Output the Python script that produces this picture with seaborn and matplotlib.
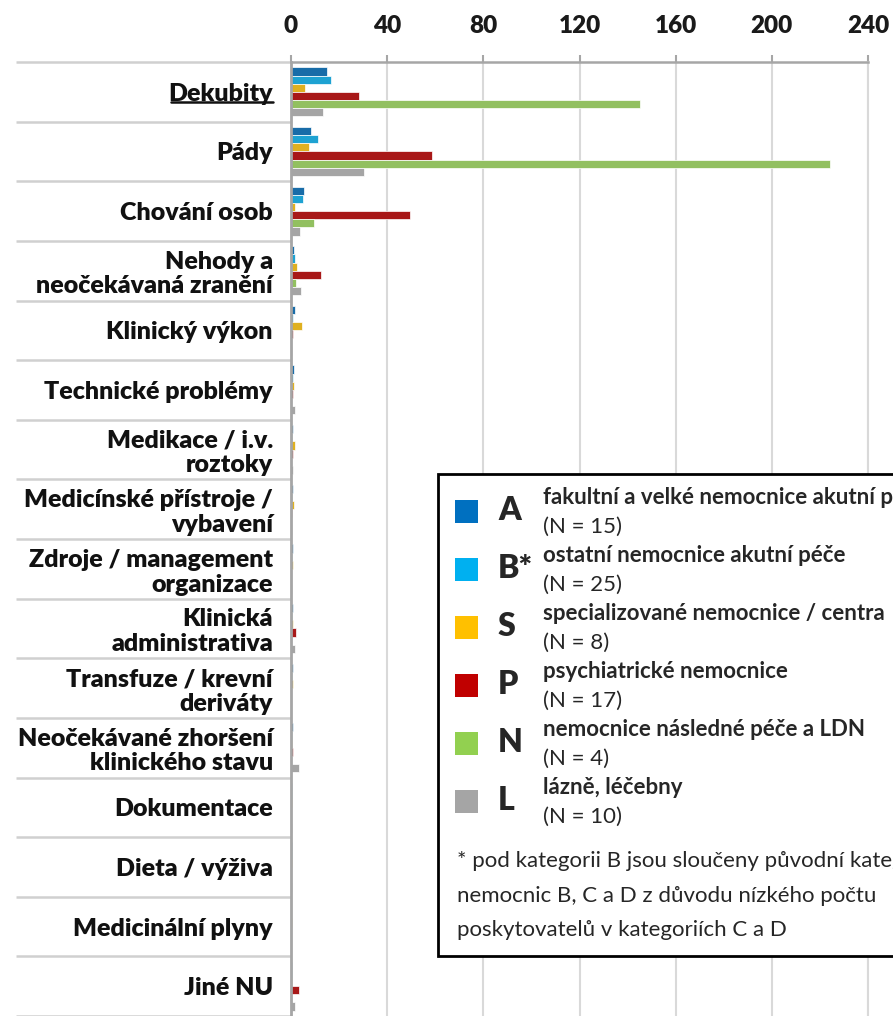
import numpy as np
import pandas as pd
import seaborn as sns
import matplotlib.pyplot as plt
from matplotlib.patches import Rectangle
from matplotlib.lines import Line2D
from matplotlib.transforms import IdentityTransform

# categories of adverse events (top to bottom)
categories = [
    'Dekubity', 'Pády', 'Chování osob', 'Nehody a\nneočekávaná zranění',
    'Klinický výkon', 'Technické problémy', 'Medikace / i.v.\nroztoky',
    'Medicínské přístroje /\nvybavení', 'Zdroje / management\norganizace',
    'Klinická\nadministrativa', 'Transfuze / krevní\nderiváty',
    'Neočekávané zhoršení\nklinického stavu', 'Dokumentace', 'Dieta / výživa',
    'Medicinální plyny', 'Jiné NU',
]

groups = ['A', 'B*', 'S', 'P', 'N', 'L']
group_desc = [
    'fakultní a velké nemocnice akutní péče',
    'ostatní nemocnice akutní péče',
    'specializované nemocnice / centra',
    'psychiatrické nemocnice',
    'nemocnice následné péče a LDN',
    'lázně, léčebny',
]
group_n = [15, 25, 8, 17, 4, 10]
colors = ['#0070C0', '#00B0F0', '#FFC000', '#C00000', '#92D050', '#A5A5A5']

vals_A = [15, 8.5, 5.4, 1.4, 1.5, 1.3, 0.7, 0.8, 0.7, 0.7, 0.7, 0.7, 0.5, 0.5, 0, 0.5]
vals_B = [16.5, 11.2, 5.0, 1.5, 0.7, 0.7, 0.3, 0.3, 0.3, 0.3, 0.3, 0.3, 0.3, 0.3, 0, 0.3]
vals_S = [6.0, 7.6, 1.8, 2.6, 4.5, 1.3, 1.6, 1.1, 0.7, 0.8, 0.9, 0.5, 0.4, 0.5, 0.4, 0.6]
vals_P = [28.4, 58.5, 49.6, 12.5, 1.0, 0.9, 0.9, 0.6, 0, 2.0, 0, 0.8, 0, 0, 0, 3.5]
vals_N = [145, 224, 9.7, 2.0, 0, 0, 0, 0, 0, 0, 0, 0, 0, 0, 0, 0]
vals_L = [13.2, 30.4, 3.7, 4.2, 0.5, 1.8, 0.7, 0.3, 0.3, 1.5, 0, 3.5, 0.3, 0.3, 0, 1.8]

x_ticks = [0, 40, 80, 120, 160, 200, 240]

footnote = ['* pod kategorii B jsou sloučeny původní kategorie',
            'nemocnic B, C a D z důvodu nízkého počtu',
            'poskytovatelů v kategoriích C a D']

df = pd.DataFrame({
    'category': categories * len(groups),
    'group': np.repeat(groups, len(categories)),
    'value': np.concatenate([vals_A, vals_B, vals_S, vals_P, vals_N, vals_L]),
})

sns.set_theme(style='white')
plt.rcParams['font.family'] = ['Lato', 'DejaVu Sans']

W, H = 893, 1016
fig = plt.figure(figsize=(W / 100, H / 100), dpi=100)
ax = fig.add_axes([291 / W, 0, (868 - 291) / W, 1 - 62 / H])

sns.barplot(data=df, x='value', y='category', hue='group', palette=colors,
            orient='h', width=0.82, edgecolor='white', linewidth=0.5,
            errorbar=None, legend=False, ax=ax)

ax.set_xlim(0, 240)
ax.set_ylim(len(categories) - 0.5, -0.5)
ax.set_xlabel('')
ax.set_ylabel('')

# x axis on top
ax.xaxis.tick_top()
ax.set_xticks(x_ticks)
ax.set_xticklabels([str(t) for t in x_ticks], fontsize=17.5, fontweight='heavy')
ax.tick_params(axis='x', which='major', top=True, bottom=False, length=5,
               width=1.5, color='#a6a6a6', pad=13, labelcolor='#1a1a1a')
ax.grid(axis='x', color='#d9d9d9', linewidth=1.5)
ax.set_axisbelow(True)

# category labels + long separator ticks
ax.set_yticks(range(len(categories)))
ax.set_yticklabels(categories, fontsize=18, fontweight='heavy', linespacing=1.15)
ax.set_yticks(np.arange(len(categories) + 1) - 0.5, minor=True)
ax.tick_params(axis='y', which='major', left=False, length=0, pad=13,
               labelcolor='#111111')
ax.tick_params(axis='y', which='minor', left=True, length=198, width=1.8,
               color='#d0d0d0')

ax.spines['left'].set_color('#a6a6a6')
ax.spines['left'].set_linewidth(2)
ax.spines['top'].set_color('#a6a6a6')
ax.spines['top'].set_linewidth(1.8)
ax.spines['right'].set_color('#d9d9d9')
ax.spines['right'].set_linewidth(1.5)
ax.spines['bottom'].set_visible(False)

# legend box
box = Rectangle((438 / W, 1 - 956 / H), 600 / W, (956 - 474) / H,
                transform=fig.transFigure, facecolor='white', edgecolor='black',
                linewidth=2, zorder=5)
fig.add_artist(box)
for i, (g, d, n, c) in enumerate(zip(groups, group_desc, group_n, colors)):
    cy = 511 + 58 * i
    fig.add_artist(Rectangle((455 / W, 1 - (cy + 11.5) / H), 23 / W, 23 / H,
                             transform=fig.transFigure, facecolor=c,
                             edgecolor='none', zorder=6))
    fig.text(498 / W, 1 - cy / H, g, fontsize=23, fontweight='heavy',
             va='center', ha='left', zorder=7)
    fig.text(543 / W, 1 - (cy - 7) / H, d, fontsize=16, fontweight='bold',
             va='baseline', ha='left', zorder=7)
    fig.text(543 / W, 1 - (cy + 22) / H, f'(N = {n})', fontsize=16,
             va='baseline', ha='left', zorder=7)

for j, line in enumerate(footnote):
    fig.text(457 / W, 1 - (867 + 34.5 * j) / H, line, fontsize=16,
             va='baseline', ha='left', zorder=7)

# underline the first category label
fig.canvas.draw()
renderer = fig.canvas.get_renderer()
bb = ax.get_yticklabels()[0].get_window_extent(renderer)
fig.add_artist(Line2D([bb.x0 + 3, bb.x1], [bb.y0 + 3, bb.y0 + 3],
                      transform=IdentityTransform(), color='#111111', linewidth=1.8))

fig.savefig('out.png', dpi=100)
